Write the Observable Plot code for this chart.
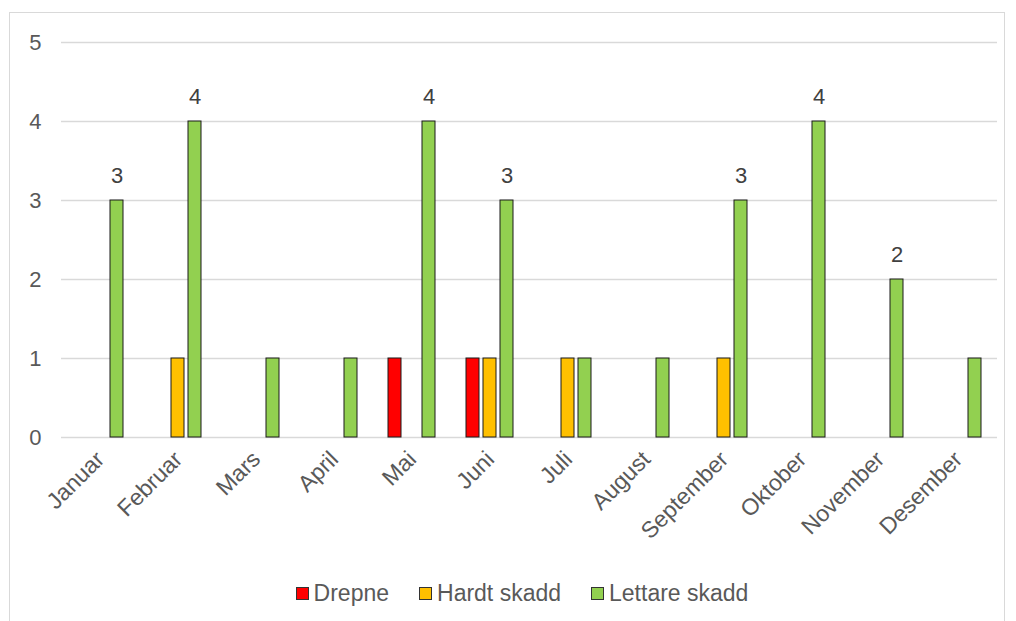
<!DOCTYPE html>
<html>
<head>
<meta charset="utf-8">
<script src="https://cdn.jsdelivr.net/npm/d3@7"></script>
<script src="https://cdn.jsdelivr.net/npm/@observablehq/plot@0.6"></script>
<style>
  body { margin: 0; background: #fff; font-family: "Liberation Sans", Arial, sans-serif; }
  #wrap { position: relative; width: 1016px; height: 621px; overflow: hidden; }
  #frame { position: absolute; left: 9px; top: 12px; width: 996px; height: 620px; border: 1.5px solid #d9d9d9; box-sizing: border-box; }
  #chart { position: absolute; left: 0; top: 0; }
  #legend { position: absolute; left: 0; top: 580px; width: 1044px; display: flex; justify-content: center; gap: 30px; font-size: 23px; color: #595959; line-height: 26px; }
  .item { display: flex; align-items: center; }
  .sw { width: 11px; height: 11px; border: 1px solid #333; margin-right: 5px; }
</style>
</head>
<body>
<div id="wrap">
  <div id="frame"></div>
  <div id="chart"></div>
  <div id="legend"></div>
</div>
<script>
const months = ["Januar","Februar","Mars","April","Mai","Juni","Juli","August","September","Oktober","November","Desember"];
const series = ["Drepne","Hardt skadd","Lettare skadd"];
const drepne  = [0,0,0,0,1,1,0,0,0,0,0,0];
const hardt   = [0,1,0,0,0,1,1,0,1,0,0,0];
const lettare = [3,4,1,1,4,3,1,1,3,4,2,1];
const colors = ["#FF0000","#FFC000","#92D050"];
const yTicks = [0,1,2,3,4,5];

const values = [drepne, hardt, lettare];
const rows = [];
months.forEach((m, i) => series.forEach((s, j) => rows.push({month: m, series: s, value: values[j][i]})));

const chart = Plot.plot({
  width: 1016, height: 560,
  marginLeft: 60, marginRight: 18, marginTop: 42, marginBottom: 123,
  style: {fontFamily: "'Liberation Sans', Arial, sans-serif", background: "transparent", color: "#595959"},
  fx: {domain: months, padding: 0, label: null, axis: null},
  x: {domain: series, axis: null, paddingInner: 0.208, paddingOuter: 0.864},
  y: {domain: [0, 5], axis: null},
  color: {domain: series, range: colors},
  marks: [
    Plot.ruleY(yTicks, {y: d => d, stroke: "#d9d9d9", strokeWidth: 1.3}),
    Plot.barY(rows.filter(d => d.value > 0), {fx: "month", x: "series", y: "value", fill: "series", stroke: "#1a1a1a", strokeWidth: 1}),
    Plot.text(rows.filter(d => d.series === "Lettare skadd" && d.value > 1), {fx: "month", x: "series", y: "value", text: d => String(d.value), dy: -25, fontSize: 22, fill: "#404040"}),
    Plot.axisY({ticks: yTicks, tickFormat: d => String(d), tickSize: 0, tickPadding: 20, fontSize: 22, fill: "#595959", label: null}),
    Plot.axisFx({anchor: "bottom", tickRotate: -45, tickSize: 0, tickPadding: 18, fontSize: 23, fill: "#595959", label: null})
  ]
});
document.getElementById("chart").appendChild(chart);

const legend = document.getElementById("legend");
series.forEach((s, i) => {
  const it = document.createElement("div");
  it.className = "item";
  const sw = document.createElement("span");
  sw.className = "sw";
  sw.style.background = colors[i];
  const t = document.createElement("span");
  t.textContent = s;
  it.appendChild(sw); it.appendChild(t);
  legend.appendChild(it);
});
</script>
</body>
</html>
